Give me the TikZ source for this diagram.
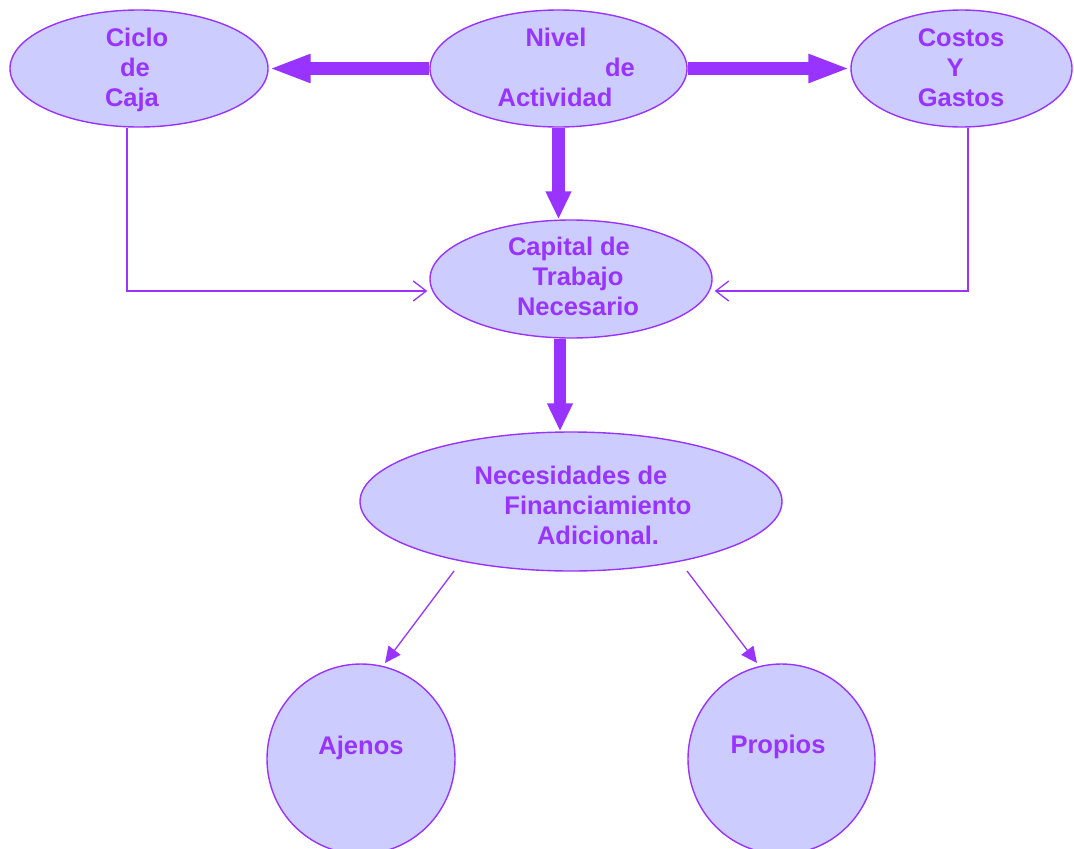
\documentclass[tikz,border=0pt]{standalone}
\usepackage{fontspec}
\setmainfont{Liberation Sans}
\usetikzlibrary{shapes.geometric,arrows.meta}
\definecolor{lineP}{HTML}{9933FF}
\definecolor{fillP}{HTML}{CCCCFF}
\tikzset{
  bubble/.style={ellipse, draw=lineP, fill=fillP, line width=1.4pt, inner sep=0pt},
  txt/.style={text=lineP, font=\fontsize{25.5}{30}\selectfont\bfseries, inner sep=0pt, text height=18pt, text depth=0pt, anchor=center},
  bigarrowH/.style={draw=lineP, line width=12.5pt, -{Triangle[length=42pt,width=26pt]}, fill=lineP},
  bigarrowV/.style={draw=lineP, line width=12.5pt, -{Triangle[length=28pt,width=24pt]}, fill=lineP},
  openarrow/.style={draw=lineP, line width=1.3pt, -{Straight Barb[length=13pt,width=20pt,line width=1.3pt]}},
  fillarrow/.style={draw=lineP, line width=1.3pt, -{Triangle[length=16pt,width=15pt]}, fill=lineP},
}
\begin{document}
\begin{tikzpicture}[x=1pt,y=-1pt]
\useasboundingbox (0,0) rectangle (1074,849);
\clip (0,0) rectangle (1074,849);
% bubbles
\node[bubble, minimum width=258pt, minimum height=117pt] (ciclo) at (139,68.5) {};
\node[bubble, minimum width=257pt, minimum height=117pt] (nivel) at (558.5,68.5) {};
\node[bubble, minimum width=221pt, minimum height=117pt] (costos) at (961.5,68.5) {};
\node[bubble, minimum width=282pt, minimum height=118pt] (capital) at (571,279) {};
\node[bubble, minimum width=422pt, minimum height=139pt] (necesidades) at (571,501.5) {};
\node[bubble, minimum width=188pt, minimum height=190pt] (ajenos) at (361,759) {};
\node[bubble, minimum width=187pt, minimum height=190pt] (propios) at (781.5,759) {};
% texts
\node[txt] (t1) at (137,37) {Ciclo};
\node[txt] (t2) at (135,67) {de};
\node[txt] (t3) at (132,97) {Caja};
\node[txt] (t4) at (556,37) {Nivel};
\node[txt] (t5) at (620,67) {de};
\node[txt] (t6) at (555,97) {Actividad};
\node[txt] (t7) at (961,37) {Costos};
\node[txt] (t8) at (955,67) {Y};
\node[txt] (t9) at (961,97) {Gastos};
\node[txt] (t10) at (569,246) {Capital de};
\node[txt] (t11) at (578,276) {Trabajo};
\node[txt] (t12) at (578,306) {Necesario};
\node[txt] (t13) at (571,475) {Necesidades de};
\node[txt] (t14) at (598,505) {Financiamiento};
\node[txt] (t15) at (598,535) {Adicional.};
\node[txt] (t16) at (361,745) {Ajenos};
\node[txt] (t17) at (778,744) {Propios};
% thick arrows
\draw[bigarrowH] (nivel) -- (ciclo);
\draw[bigarrowH] (nivel) -- (costos);
\draw[bigarrowV] (nivel.south) -- (nivel.south |- capital.north);
\draw[bigarrowV] ([xshift=-11pt]capital.south) -- ([xshift=-11pt]capital.south |- necesidades.north);
% thin elbow arrows
\draw[openarrow] ([xshift=-12pt]ciclo.south) |- ([xshift=-2pt,yshift=-12pt]capital.west);
\draw[openarrow] ([xshift=6.5pt]costos.south) |- ([xshift=2pt,yshift=-12pt]capital.east);
% diagonal arrows
\coordinate (nA) at (454,571);
\coordinate (nP) at (687,571);
\coordinate (aT) at (385,663);
\coordinate (pT) at (757,663);
\draw[fillarrow] (nA) -- (aT);
\draw[fillarrow] (nP) -- (pT);
\end{tikzpicture}
\end{document}
